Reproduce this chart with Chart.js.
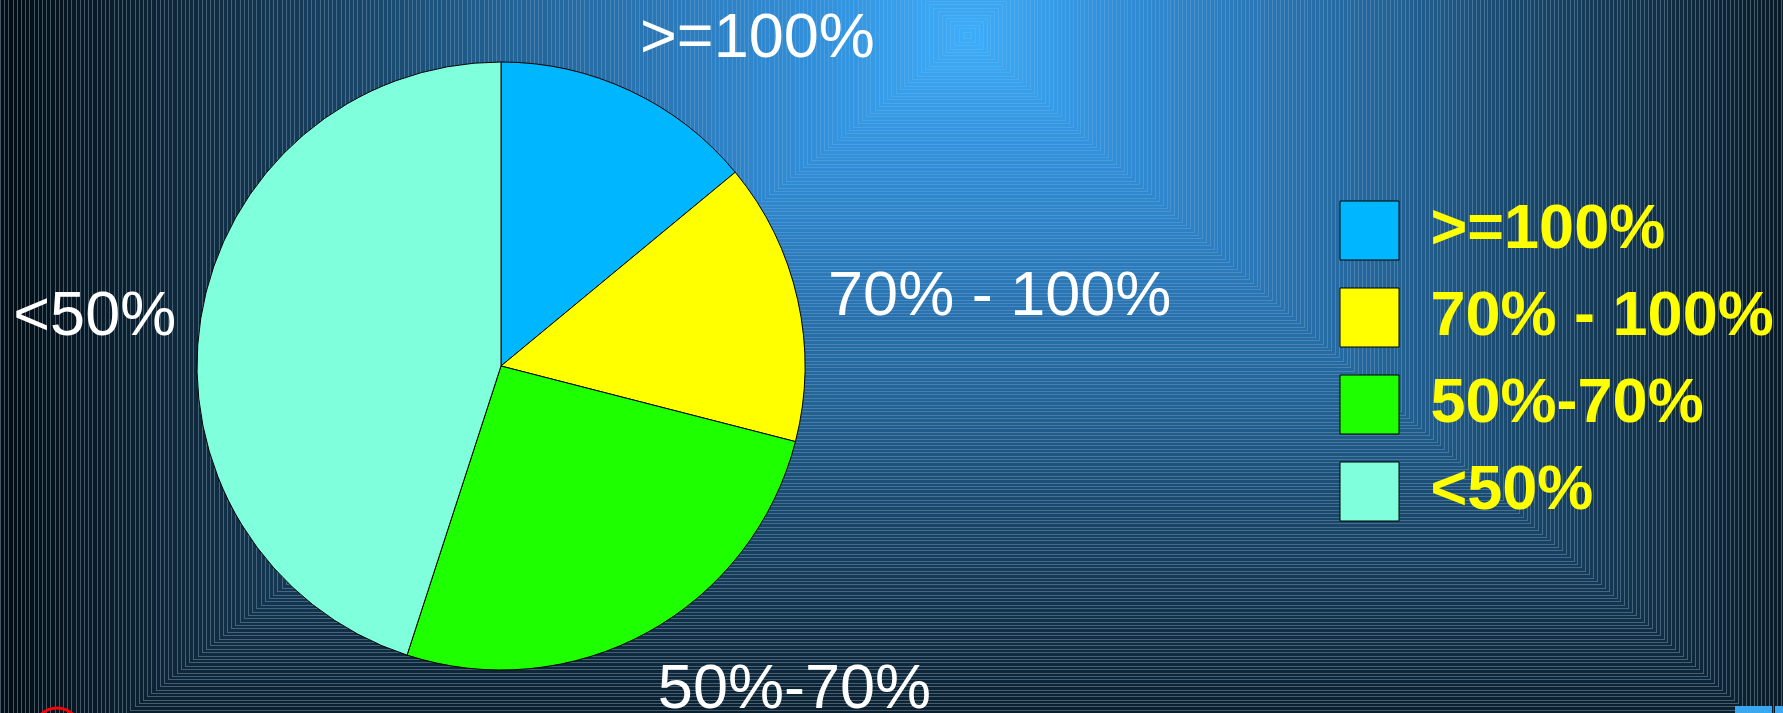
<!DOCTYPE html>
<html lang="en">
<head>
    <meta charset="UTF-8">
    <title>Achievement Pie</title>
    <style>
        body {
            margin: 0;
            overflow: hidden;
            background: #02101a;
            font-family: "Liberation Sans", Arial, sans-serif;
        }
        .wrap {
            position: relative;
            width: 1783px;
            height: 713px;
        }
    </style>
</head>
<body>
    <div class="wrap">
        <canvas id="pieChart"></canvas>
    </div>

    <script src="https://cdn.jsdelivr.net/npm/chart.js"></script>
    <script>
        // categories and shares (percent of the whole)
        const categories = ['>=100%', '70% - 100%', '50%-70%', '<50%'];
        const shares = [14, 15, 26, 45];
        // outside labels, as written next to the slices
        const sliceLabels = ['>=100%', '70% - 100%', '50%-70%', '<50%'];
        const sliceColors = ['#00b6ff', '#ffff00', '#1eff00', '#7fffdc'];

        // where each outside label sits, relative to the rim point of its slice
        const labelNudge = [[127, -34], [202, 15], [147, 76], [-106, 17]];

        // colour stops for the rectangular background gradient
        const bgStops = [
            [0, [62, 174, 250]],
            [0.15, [50, 145, 220]],
            [0.37, [40, 112, 172]],
            [0.48, [34, 98, 148]],
            [0.6, [26, 74, 112]],
            [0.8, [15, 42, 62]],
            [1, [2, 12, 20]]
        ];

        function bgColor(t) {
            for (let i = 1; i < bgStops.length; i++) {
                if (t <= bgStops[i][0]) {
                    const [t0, c0] = bgStops[i - 1];
                    const [t1, c1] = bgStops[i];
                    const k = (t - t0) / (t1 - t0);
                    const c = c0.map((v, j) => Math.round(v + (c1[j] - v) * k));
                    return 'rgb(' + c.join(',') + ')';
                }
            }
            return 'rgb(' + bgStops[bgStops.length - 1][1].join(',') + ')';
        }

        // slide-like background: concentric rectangles spreading from the top centre
        const slideBackground = {
            id: 'slideBackground',
            beforeDraw(chart) {
                const ctx = chart.ctx;
                const w = chart.width, h = chart.height;
                const cx = 967, cy = 35;
                const extL = 967, extR = 900, extV = 780;
                const steps = 230;
                ctx.save();
                ctx.fillStyle = bgColor(1);
                ctx.fillRect(0, 0, w, h);
                ctx.lineWidth = 1;
                for (let s = steps; s >= 1; s--) {
                    const t = s / steps;
                    const x0 = Math.round(cx - t * extL) + 0.5;
                    const x1 = Math.round(cx + t * extR) + 0.5;
                    const y0 = Math.round(cy - t * extV) + 0.5;
                    const y1 = Math.round(cy + t * extV) + 0.5;
                    ctx.fillStyle = bgColor(t);
                    ctx.fillRect(x0, y0, x1 - x0, y1 - y0);
                    ctx.strokeStyle = 'rgba(190, 215, 235, ' + (0.14 + 0.22 * t) + ')';
                    ctx.strokeRect(x0, y0, x1 - x0, y1 - y0);
                }
                // bits of other slide furniture peeking in at the bottom
                ctx.strokeStyle = '#ff0000';
                ctx.lineWidth = 3;
                ctx.beginPath();
                ctx.arc(57, 731, 23, 0, Math.PI * 2);
                ctx.stroke();
                ctx.fillStyle = '#3aa8f0';
                ctx.fillRect(1735, 706, 37, 7);
                ctx.fillRect(1775, 706, 8, 7);
                ctx.restore();
            }
        };

        // put the pie where it sits on the slide, leave the legend alone
        const plotBox = {
            id: 'plotBox',
            afterLayout(chart) {
                const a = chart.chartArea;
                a.left = 151;
                a.right = 851;
                a.top = 16;
                a.bottom = 716;
                a.width = 700;
                a.height = 700;
            }
        };

        const outsideLabels = {
            id: 'outsideLabels',
            afterDatasetsDraw(chart) {
                const ctx = chart.ctx;
                const meta = chart.getDatasetMeta(0);
                ctx.save();
                ctx.fillStyle = '#ffffff';
                ctx.font = '63px "Liberation Sans", Arial, sans-serif';
                ctx.textAlign = 'center';
                ctx.textBaseline = 'alphabetic';
                meta.data.forEach((arc, i) => {
                    const p = arc.getProps(['x', 'y', 'startAngle', 'endAngle', 'outerRadius'], true);
                    const mid = (p.startAngle + p.endAngle) / 2;
                    const ax = p.x + Math.cos(mid) * p.outerRadius;
                    const ay = p.y + Math.sin(mid) * p.outerRadius;
                    ctx.fillText(sliceLabels[i], ax + labelNudge[i][0], ay + labelNudge[i][1]);
                });
                ctx.restore();
            }
        };

        const ctx = document.getElementById('pieChart').getContext('2d');
        const pieChart = new Chart(ctx, {
            type: 'pie',
            data: {
                labels: categories,
                datasets: [{
                    data: shares,
                    backgroundColor: sliceColors,
                    borderColor: '#000000',
                    borderWidth: 1
                }]
            },
            options: {
                responsive: true,
                maintainAspectRatio: false,
                animation: false,
                radius: 304,
                layout: { padding: { top: 9, right: 0, bottom: 0, left: 0 } },
                plugins: {
                    tooltip: { enabled: false },
                    legend: {
                        position: 'right',
                        maxWidth: 467,
                        labels: {
                            color: '#ffff00',
                            boxWidth: 59,
                            boxHeight: 59,
                            padding: 24,
                            font: {
                                family: '"Liberation Sans", Arial, sans-serif',
                                size: 63,
                                weight: 'bold'
                            }
                        }
                    }
                }
            },
            plugins: [slideBackground, plotBox, outsideLabels]
        });
    </script>
</body>
</html>
